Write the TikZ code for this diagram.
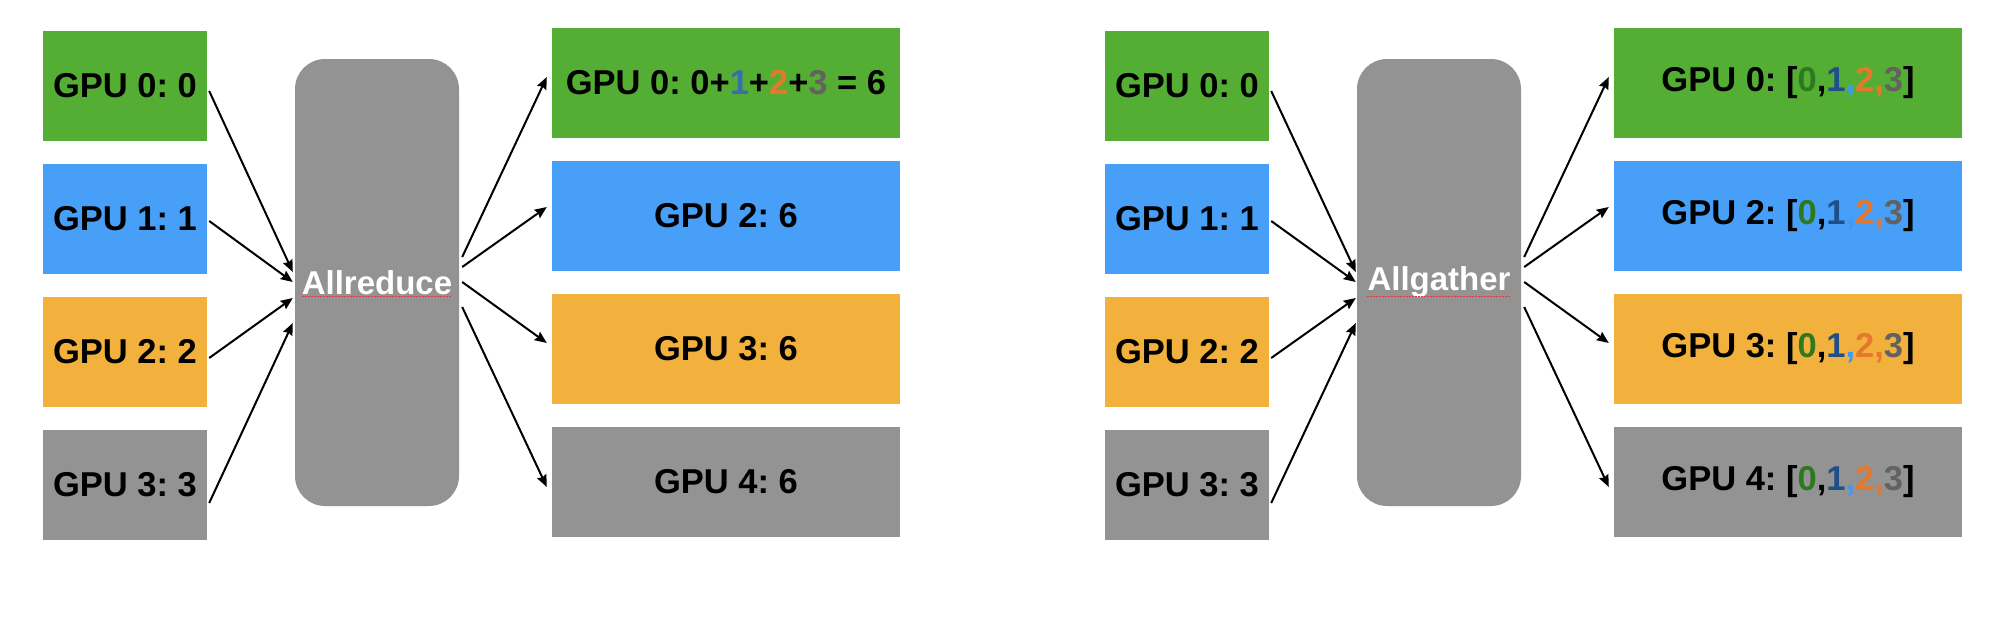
\documentclass[tikz,border=0pt]{standalone}
\usepackage{fontspec}
\setmainfont{Liberation Sans}
\usetikzlibrary{arrows.meta}
\frenchspacing
\definecolor{cgreen}{RGB}{85,174,52}
\definecolor{cblue}{RGB}{72,159,248}
\definecolor{corange}{RGB}{242,177,61}
\definecolor{cgray}{RGB}{147,147,147}
\definecolor{nblue}{RGB}{58,110,168}
\definecolor{norange}{RGB}{230,120,45}
\definecolor{ngray}{RGB}{98,98,98}
\definecolor{ngreen}{RGB}{46,120,30}
\definecolor{ndblue}{RGB}{31,78,137}
\definecolor{nlblue}{RGB}{66,153,242}
\definecolor{spellred}{RGB}{225,60,60}
\begin{document}
\begin{tikzpicture}[x=1pt,y=-1pt,
  gpubox/.style={rectangle, inner sep=0pt, minimum width=164pt, minimum height=110pt,
    font=\fontsize{34.5}{41}\bfseries\selectfont, text=black},
  outbox/.style={gpubox, minimum width=348pt},
  opbox/.style={rectangle, rounded corners=30pt, fill=cgray, minimum width=164pt,
    minimum height=447pt, inner sep=0pt, text=white, font=\fontsize{33}{40}\bfseries\selectfont},
  conn/.style={-{Stealth[length=12pt,width=10pt,inset=1.5pt]}, line width=2pt},
  spell/.style={spellred, line width=1.3pt, dash pattern=on 1.5pt off 1.5pt}
]
\useasboundingbox (0,0) rectangle (2006,624);

% ---------- Allreduce ----------
\node[gpubox, fill=cgreen]  (li0) at (125,86)  {GPU 0: 0};
\node[gpubox, fill=cblue]   (li1) at (125,219) {GPU 1: 1};
\node[gpubox, fill=corange] (li2) at (125,352) {GPU 2: 2};
\node[gpubox, fill=cgray]   (li3) at (125,485) {GPU 3: 3};

\node[opbox] (ar) at (377,282.5) {Allreduce};
\draw[spell] ([xshift=-75pt,yshift=-14pt]ar.center) -- ([xshift=75pt,yshift=-14pt]ar.center);

\node[outbox, fill=cgreen]  (lo0) at (726,83)  {GPU 0: 0+\textcolor{nblue}{1}+\textcolor{norange}{2}+\textcolor{ngray}{3} = 6};
\node[outbox, fill=cblue]   (lo1) at (726,216) {GPU 2: 6};
\node[outbox, fill=corange] (lo2) at (726,349) {GPU 3: 6};
\node[outbox, fill=cgray]   (lo3) at (726,482) {GPU 4: 6};

\draw[conn] ([xshift=2pt,yshift=-5pt]li0.east)  -- ([xshift=-2pt,yshift=10.5pt]ar.west);
\draw[conn] ([xshift=2pt,yshift=-2pt]li1.east)  -- ([xshift=-2pt,yshift=0.5pt]ar.west);
\draw[conn] ([xshift=2pt,yshift=-6pt]li2.east)  -- ([xshift=-2pt,yshift=-15.5pt]ar.west);
\draw[conn] ([xshift=2pt,yshift=-18pt]li3.east) -- ([xshift=-2pt,yshift=-40.5pt]ar.west);

\draw[conn] ([xshift=3pt,yshift=25.5pt]ar.east)  -- ([xshift=-5pt,yshift=6pt]lo0.west);
\draw[conn] ([xshift=3pt,yshift=15.5pt]ar.east)  -- ([xshift=-5pt,yshift=9pt]lo1.west);
\draw[conn] ([xshift=3pt,yshift=0.5pt]ar.east)   -- ([xshift=-5pt,yshift=6pt]lo2.west);
\draw[conn] ([xshift=3pt,yshift=-24.5pt]ar.east) -- ([xshift=-5pt,yshift=-5pt]lo3.west);

% ---------- Allgather ----------
\node[gpubox, fill=cgreen]  (ri0) at (1187,86)  {GPU 0: 0};
\node[gpubox, fill=cblue]   (ri1) at (1187,219) {GPU 1: 1};
\node[gpubox, fill=corange] (ri2) at (1187,352) {GPU 2: 2};
\node[gpubox, fill=cgray]   (ri3) at (1187,485) {GPU 3: 3};

\node[opbox] (ag) at (1439,282.5) {Allgather};
\draw[spell] ([xshift=-72pt,yshift=-14pt]ag.center) -- ([xshift=72pt,yshift=-14pt]ag.center);

\newcommand{\gathered}{[\textcolor{ngreen}{0},\textcolor{ndblue}{1}\textcolor{nlblue}{,}\textcolor{norange}{2,}\textcolor{ngray}{3}]}
\node[outbox, fill=cgreen]  (ro0) at (1788,83)  {GPU 0: \gathered};
\node[outbox, fill=cblue]   (ro1) at (1788,216) {GPU 2: \gathered};
\node[outbox, fill=corange] (ro2) at (1788,349) {GPU 3: \gathered};
\node[outbox, fill=cgray]   (ro3) at (1788,482) {GPU 4: \gathered};

\draw[conn] ([xshift=2pt,yshift=-5pt]ri0.east)  -- ([xshift=-1pt,yshift=10.5pt]ag.west);
\draw[conn] ([xshift=2pt,yshift=-2pt]ri1.east)  -- ([xshift=-1pt,yshift=0.5pt]ag.west);
\draw[conn] ([xshift=2pt,yshift=-6pt]ri2.east)  -- ([xshift=-1pt,yshift=-15.5pt]ag.west);
\draw[conn] ([xshift=2pt,yshift=-18pt]ri3.east) -- ([xshift=-1pt,yshift=-40.5pt]ag.west);

\draw[conn] ([xshift=3pt,yshift=25.5pt]ag.east)  -- ([xshift=-5pt,yshift=6pt]ro0.west);
\draw[conn] ([xshift=3pt,yshift=15.5pt]ag.east)  -- ([xshift=-5pt,yshift=9pt]ro1.west);
\draw[conn] ([xshift=3pt,yshift=0.5pt]ag.east)   -- ([xshift=-5pt,yshift=6pt]ro2.west);
\draw[conn] ([xshift=3pt,yshift=-24.5pt]ag.east) -- ([xshift=-5pt,yshift=-5pt]ro3.west);
\end{tikzpicture}
\end{document}
